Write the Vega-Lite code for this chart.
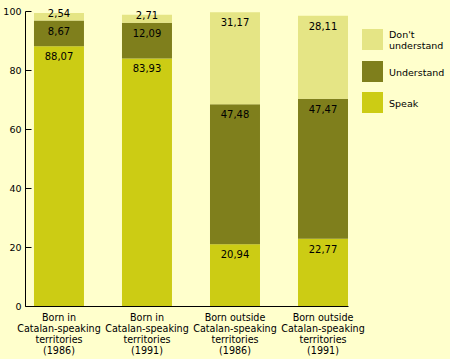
{
  "$schema": "https://vega.github.io/schema/vega-lite/v6.json",
  "width": 323,
  "height": 295,
  "autosize": {"type": "none"},
  "padding": {"left": 25, "top": 11, "right": 102, "bottom": 53},
  "background": "#FFFFCC",
  "config": {
    "view": {"stroke": null},
    "font": "DejaVu Sans",
    "axis": {"labelFont": "DejaVu Sans", "labelColor": "#000000", "domainColor": "#000000", "tickColor": "#000000", "grid": false, "title": null}
  },
  "data": {
    "values": [
      {"group": "Born in|Catalan-speaking|territories|(1986)", "cat": "Speak", "value": 88.07},
      {"group": "Born in|Catalan-speaking|territories|(1986)", "cat": "Understand", "value": 8.67},
      {"group": "Born in|Catalan-speaking|territories|(1986)", "cat": "Don't understand", "value": 2.54},
      {"group": "Born in|Catalan-speaking|territories|(1991)", "cat": "Speak", "value": 83.93},
      {"group": "Born in|Catalan-speaking|territories|(1991)", "cat": "Understand", "value": 12.09},
      {"group": "Born in|Catalan-speaking|territories|(1991)", "cat": "Don't understand", "value": 2.71},
      {"group": "Born outside|Catalan-speaking|territories|(1986)", "cat": "Speak", "value": 20.94},
      {"group": "Born outside|Catalan-speaking|territories|(1986)", "cat": "Understand", "value": 47.48},
      {"group": "Born outside|Catalan-speaking|territories|(1986)", "cat": "Don't understand", "value": 31.17},
      {"group": "Born outside|Catalan-speaking|territories|(1991)", "cat": "Speak", "value": 22.77},
      {"group": "Born outside|Catalan-speaking|territories|(1991)", "cat": "Understand", "value": 47.47},
      {"group": "Born outside|Catalan-speaking|territories|(1991)", "cat": "Don't understand", "value": 28.11}
    ]
  },
  "transform": [
    {"calculate": "indexof(['Speak','Understand','Don\\'t understand'], datum.cat)", "as": "k"},
    {"stack": "value", "groupby": ["group"], "sort": [{"field": "k", "order": "ascending"}], "as": ["y0", "y1"]},
    {"calculate": "replace(format(datum.value, '.2f'), '.', ',')", "as": "label"}
  ],
  "encoding": {
    "x": {
      "field": "group",
      "type": "nominal",
      "sort": null,
      "scale": {"paddingInner": 0.432, "paddingOuter": 0.051, "align": 1},
      "axis": {
        "labelAngle": 0,
        "ticks": false,
        "labelPadding": 6,
        "labelFontSize": 9.6,
        "labelLineHeight": 11.3,
        "labelBaseline": "top",
        "labelExpr": "split(datum.label, '|')"
      }
    }
  },
  "layer": [
    {
      "mark": {"type": "bar"},
      "encoding": {
        "y": {
          "field": "y0",
          "type": "quantitative",
          "scale": {"domain": [0, 100]},
          "axis": {"values": [0, 20, 40, 60, 80, 100], "ticks": true, "tickSize": -6, "tickWidth": 1, "labelPadding": 10, "labelFontSize": 9.5}
        },
        "y2": {"field": "y1"},
        "color": {
          "field": "cat",
          "type": "nominal",
          "scale": {"domain": ["Don't understand", "Understand", "Speak"], "range": ["#E5E585", "#7F7F1C", "#CCCC14"]},
          "legend": {
            "title": null,
            "orient": "none",
            "legendX": 337,
            "legendY": 18,
            "symbolType": "square",
            "symbolSize": 441,
            "symbolStrokeWidth": 0,
            "labelFont": "DejaVu Sans",
            "labelFontSize": 9.5,
            "labelColor": "#000000",
            "labelOffset": 6,
            "rowPadding": 10,
            "labelExpr": "datum.label == \"Don't understand\" ? ['Don\\'t', 'understand'] : datum.label",
            "encode": {"labels": {"update": {"dy": {"signal": "datum.label == \"Don't understand\" ? -5 : 1"}}}}
          }
        }
      }
    },
    {
      "transform": [{"filter": "datum.value > 5"}],
      "mark": {"type": "text", "baseline": "middle", "dy": 11, "fontSize": 10, "color": "#000000"},
      "encoding": {
        "y": {"field": "y1", "type": "quantitative"},
        "text": {"field": "label"}
      }
    },
    {
      "transform": [{"filter": "datum.value <= 5"}],
      "mark": {"type": "text", "baseline": "middle", "dy": 1, "fontSize": 10, "color": "#000000"},
      "encoding": {
        "y": {"field": "y1", "type": "quantitative"},
        "text": {"field": "label"}
      }
    }
  ]
}
